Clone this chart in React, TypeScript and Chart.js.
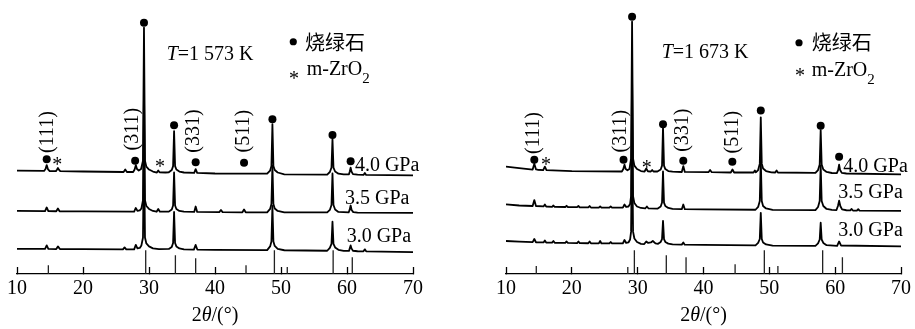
import React, { useEffect, useRef } from 'react';
import { Chart, registerables } from 'chart.js';

Chart.register(...registerables);

// ---------------- data ----------------
const X_MIN = 10;
const X_MAX = 70;
const X_STEP = 10;
const PRESSURES = ['4.0 GPa', '3.5 GPa', '3.0 GPa'];
const TEMPS = ['1 573 K', '1 673 K'];
const HKL = ['(111)', '(311)', '(331)', '(511)'];
const LEGEND_PYRO = '烧绿石';
const LEGEND_ZRO2 = 'm-ZrO';

type Pt = [number, number];

// T = 1573 K, intensities (a.u.) above each pattern's own offset
const L_40: Pt[] = [
  [10, 5], [14.1, 4.6], [14.32, 6.5], [14.5, 10.5], [14.68, 6.5], [14.95, 4.5], [15.9, 4.4], [16.05, 5.8],
  [16.2, 7.5], [16.35, 5.8], [16.55, 4.4], [20, 4], [26.15, 3.5], [26.4, 6], [26.65, 3.5], [27.6, 3.5],
  [27.82, 6], [28.0, 10.5], [28.18, 6.5], [28.45, 5], [28.8, 6.5], [29.09, 15], [29.24, 150], [29.39, 15],
  [29.6, 9], [30.0, 6], [30.6, 4], [31.2, 3], [31.4, 5], [31.6, 3.2], [32.5, 3], [33.0, 3.2], [33.45, 5.5],
  [33.65, 9.5], [33.8, 45], [33.95, 9.5], [34.15, 6], [34.6, 4], [35.3, 3], [36.85, 2.6], [37.07, 6.5],
  [37.3, 2.7], [40, 2], [47.9, 1.8], [48.35, 5], [48.55, 9.5], [48.7, 52], [48.85, 9.5], [49.05, 5.5],
  [49.5, 3], [50.5, 1.2], [57.0, 0.9], [57.4, 3.5], [57.65, 8], [57.8, 37], [57.95, 8], [58.2, 4], [58.7, 1.8],
  [59.5, 1], [60.3, 1.2], [60.42, 4], [60.55, 8], [60.68, 4], [60.9, 1.4], [61.6, 0.8], [62.5, 0.5],
  [62.7, 2.5], [62.9, 0.5], [70, 0],
];
const L_35: Pt[] = [
  [10, 2], [14.25, 1.8], [14.5, 5.5], [14.75, 1.8], [15.95, 1.7], [16.2, 4.5], [16.45, 1.7], [20, 1.5],
  [27.75, 1.2], [28.0, 5], [28.25, 2], [28.6, 2.5], [28.85, 4.5], [29.09, 13], [29.24, 125], [29.39, 13],
  [29.6, 7], [30.0, 4], [30.6, 2], [31.15, 1.2], [31.4, 4], [31.65, 1.2], [33.0, 1.3], [33.45, 3.5],
  [33.65, 7.5], [33.8, 41], [33.95, 7.5], [34.15, 4], [34.6, 2], [35.3, 1.2], [36.85, 1], [37.07, 6.5],
  [37.3, 1], [40.65, 0.8], [40.9, 3], [41.15, 0.8], [44.15, 0.6], [44.4, 3.5], [44.65, 0.6], [47.9, 0.6],
  [48.35, 4], [48.55, 9], [48.7, 48], [48.85, 9], [49.05, 4.5], [49.5, 2], [50.5, 0.6], [57.0, 0.5],
  [57.4, 3], [57.65, 8], [57.8, 40], [57.95, 8], [58.2, 3.5], [58.7, 1], [60.25, 0.5], [60.4, 3],
  [60.55, 7.5], [60.7, 3], [60.95, 0.8], [61.6, 0.3], [70, 0],
];
const L_30: Pt[] = [
  [10, 3.5], [14.25, 3.4], [14.5, 7], [14.75, 3.4], [15.95, 3.3], [16.2, 6], [16.5, 3.3], [20, 3.2],
  [26.05, 3], [26.3, 5], [26.55, 3], [27.75, 3], [28.0, 7.5], [28.25, 4], [28.6, 4.5], [28.85, 7],
  [29.09, 15], [29.24, 115], [29.39, 15], [29.6, 9], [30.0, 6], [30.6, 4], [31.5, 3.3], [33.0, 3.4],
  [33.45, 5.5], [33.65, 9.5], [33.8, 41], [33.95, 9.5], [34.15, 6], [34.6, 4], [35.3, 3], [36.8, 2.8],
  [37.07, 7.5], [37.32, 2.8], [40, 2.5], [47.9, 2.2], [48.35, 6], [48.55, 11], [48.7, 47], [48.85, 11],
  [49.05, 6.5], [49.5, 3.5], [50.5, 2.1], [57.0, 1.6], [57.4, 4.5], [57.65, 8.5], [57.8, 31], [57.95, 8.5],
  [58.2, 5], [58.7, 2.6], [59.5, 1.5], [60.3, 1.4], [60.42, 4], [60.55, 7], [60.68, 4], [60.9, 1.6],
  [61.6, 1.1], [62.5, 1], [62.7, 3], [62.9, 1], [70, 0.3],
];
const L_OFFSETS = [100, 62, 22];

// T = 1673 K
const R_40: Pt[] = [
  [10, 9], [12, 7.5], [14.05, 6], [14.3, 12], [14.55, 6.2], [14.8, 5.8], [15.65, 5.5], [15.9, 9], [16.15, 5.4],
  [20, 4.5], [27.6, 4], [27.82, 6.5], [28.0, 11], [28.18, 6.5], [28.45, 5.2], [28.75, 6.5], [29.0, 17],
  [29.15, 156], [29.3, 17], [29.5, 10], [29.9, 6.5], [30.5, 4.5], [31.05, 4], [31.3, 7], [31.55, 4.2],
  [32.0, 4], [32.2, 5.5], [32.4, 4], [33.0, 4], [33.5, 6], [33.7, 10], [33.85, 49], [34.0, 10], [34.2, 6.5],
  [34.65, 4.5], [35.3, 3.8], [36.7, 3.5], [36.93, 9.5], [37.16, 3.6], [40.75, 3.3], [41.0, 5.5], [41.25, 3.3],
  [44.15, 3], [44.4, 6], [44.65, 3], [47.6, 3], [47.8, 5], [47.95, 3.2], [48.3, 5.5], [48.55, 12], [48.7, 59],
  [48.85, 12], [49.05, 7], [49.5, 4.5], [50.3, 3.2], [50.9, 3], [51.1, 5], [51.3, 3], [57.0, 2.6], [57.4, 5.5],
  [57.65, 11], [57.8, 46], [57.95, 11], [58.2, 6], [58.7, 3.6], [59.5, 2.5], [60.25, 2.3], [60.45, 5.5],
  [60.6, 11], [60.75, 5.5], [61.0, 2.6], [61.7, 2], [70, 1],
];
const R_35: Pt[] = [
  [10, 6.7], [12, 5.5], [14.05, 5], [14.3, 11], [14.55, 5], [15.7, 4.6], [15.9, 6.5], [16.1, 4.5], [17.0, 4.2],
  [17.2, 5.5], [17.4, 4.1], [19.0, 4], [19.2, 5.2], [19.4, 4], [20.8, 3.8], [21.0, 5], [21.2, 3.7], [22.5, 3.6],
  [22.7, 5], [22.9, 3.5], [24.1, 3.4], [24.3, 4.6], [24.5, 3.3], [25.7, 3.3], [25.9, 4.5], [26.1, 3.3],
  [27.75, 3.3], [28.0, 6.5], [28.25, 4], [28.6, 4.5], [28.85, 7], [29.0, 15], [29.15, 135], [29.3, 15],
  [29.5, 8], [29.9, 4.5], [30.5, 3], [31.15, 2.5], [31.4, 4.5], [31.65, 2.5], [33.0, 2.3], [33.5, 4.5],
  [33.7, 8.5], [33.85, 40], [34.0, 8.5], [34.2, 5], [34.65, 3], [35.3, 2], [36.7, 1.8], [36.93, 6.5],
  [37.16, 1.8], [40, 1.5], [47.9, 1.2], [48.3, 4], [48.55, 10], [48.7, 52], [48.85, 10], [49.05, 5],
  [49.5, 2.5], [50.5, 1], [57.0, 0.8], [57.4, 4], [57.65, 10], [57.8, 46], [57.95, 10], [58.2, 5], [58.7, 2],
  [59.5, 1], [60.2, 0.9], [60.42, 5], [60.6, 10.5], [60.78, 5], [61.05, 1.5], [61.7, 0.7], [62.3, 0.5],
  [62.5, 2], [62.7, 0.4], [63.3, 0.4], [63.5, 1.8], [63.7, 0.3], [70, 0],
];
const R_30: Pt[] = [
  [10, 5.5], [12, 4.8], [14.05, 4.3], [14.3, 7.5], [14.55, 4.2], [15.7, 4], [15.9, 6], [16.1, 3.9], [17.0, 3.8],
  [17.2, 5.5], [17.4, 3.7], [19.0, 3.6], [19.2, 5], [19.4, 3.5], [20.8, 3.4], [21.0, 5], [21.2, 3.3], [22.5, 3.2],
  [22.7, 5], [22.9, 3.1], [24.1, 3.1], [24.3, 5.5], [24.5, 3], [25.7, 3], [25.9, 4.5], [26.1, 3], [27.75, 3],
  [28.0, 6.5], [28.25, 3.5], [28.6, 4], [28.85, 7], [29.0, 15], [29.15, 115], [29.3, 15], [29.5, 8],
  [29.9, 4.5], [30.5, 2.6], [31.0, 2.4], [31.3, 5], [31.6, 3.5], [32.0, 4], [32.3, 5.5], [32.7, 3], [33.1, 2.6],
  [33.5, 4.5], [33.7, 7.5], [33.85, 26], [34.0, 7.5], [34.2, 4.5], [34.65, 2.8], [35.3, 2], [36.7, 1.8],
  [36.93, 4], [37.15, 1.8], [40, 1.5], [47.9, 1], [48.3, 3.5], [48.55, 7.5], [48.7, 34], [48.85, 7.5],
  [49.05, 4], [49.5, 2], [50.5, 0.8], [57.0, 0.6], [57.4, 3], [57.65, 7], [57.8, 24], [57.95, 7], [58.2, 3.5],
  [58.7, 1.2], [60.3, 0.6], [60.6, 5], [60.9, 0.9], [70, 0],
];
const R_OFFSETS = [100, 64, 28];

// standard reference card sticks
const L_REF_POS = [14.75, 29.5, 34.0, 37.07, 44.7, 49.0, 50.95, 57.9, 60.8];
const L_REF_INT = [9, 24, 19, 16, 9, 24, 7, 24, 17];
const R_REF_POS = [14.6, 28.5, 29.5, 34.35, 37.35, 44.8, 49.24, 51.3, 58.1, 61.1];
const R_REF_INT = [8, 7, 24, 19, 17, 10, 24, 8, 24, 17];

// phase markers (pyrochlore dots, m-ZrO2 stars)
const L_DOT_X = [14.5, 27.9, 29.24, 33.8, 37.07, 44.4, 48.7, 57.8, 60.55];
const L_DOT_Y = [116.5, 115, 255, 151, 113.5, 113, 157, 141, 114.5];
const L_STAR_X = [16.1, 31.67];
const L_STAR_Y = [114, 112.5];
const R_DOT_X = [14.3, 27.85, 29.15, 33.85, 36.93, 44.38, 48.7, 57.8, 60.6];
const R_DOT_Y = [116, 116, 261, 152, 115, 114, 166, 150.5, 119];
const R_STAR_X = [16.08, 31.37];
const R_STAR_Y = [114, 110.7];

// ---------------- rendering ----------------
const SERIF = '"Liberation Serif", "Times New Roman", Times, serif';
const CJK = '"Noto Sans CJK SC", "Noto Sans CJK JP", sans-serif';

type Layout = {
  hkl: Pt[];
  pressureAt: Pt[];
  tempAt: Pt;
  legendDot: Pt;
  legendText1: Pt;
  legendStar: Pt;
  legendText2: Pt;
};

const LEFT_LAYOUT: Layout = {
  hkl: [[14.6, 144], [27.5, 147], [36.8, 145], [44.4, 145]],
  pressureAt: [[61.2, 105], [59.7, 70.7], [59.95, 32.3]],
  tempAt: [32.68, 217.3],
  legendDot: [51.86, 235.7],
  legendText1: [53.64, 235.3],
  legendStar: [51.97, 201.3],
  legendText2: [53.89, 202],
};
const RIGHT_LAYOUT: Layout = {
  hkl: [[14.25, 143], [27.47, 145], [36.81, 146], [44.4, 144]],
  pressureAt: [[61.24, 104], [60.48, 77.3], [60.48, 39]],
  tempAt: [33.65, 219],
  legendDot: [54.51, 234.7],
  legendText1: [56.44, 235.3],
  legendStar: [54.66, 204],
  legendText2: [56.44, 200.7],
};

function drawStar(ctx: CanvasRenderingContext2D, cx: number, cy: number) {
  ctx.save();
  ctx.font = `20px ${SERIF}`;
  ctx.textAlign = 'center';
  ctx.textBaseline = 'alphabetic';
  ctx.fillText('*', cx, cy + 9.4);
  ctx.restore();
}

function annotationPlugin(layout: Layout, temp: string, stars: Pt[]) {
  return {
    id: 'xrdAnnotations',
    afterDatasetsDraw(chart: any) {
      const { ctx, chartArea } = chart;
      const xs = chart.scales.x;
      const ys = chart.scales.y;
      const X = (v: number) => xs.getPixelForValue(v);
      const Y = (v: number) => ys.getPixelForValue(v);
      ctx.save();
      ctx.fillStyle = '#000';

      // Miller indices (rotated)
      ctx.font = `20px ${SERIF}`;
      ctx.textAlign = 'center';
      ctx.textBaseline = 'middle';
      layout.hkl.forEach(([hx, hy], i) => {
        ctx.save();
        ctx.translate(X(hx), Y(hy));
        ctx.rotate(-Math.PI / 2);
        ctx.fillText(HKL[i], 0, 0);
        ctx.restore();
      });

      // m-ZrO2 stars
      stars.forEach(([sx, sy]) => drawStar(ctx, X(sx), Y(sy)));

      // pressure labels
      ctx.font = `20px ${SERIF}`;
      ctx.textAlign = 'left';
      ctx.textBaseline = 'alphabetic';
      layout.pressureAt.forEach(([px, py], i) => ctx.fillText(PRESSURES[i], X(px), Y(py)));

      // temperature
      let tx = X(layout.tempAt[0]);
      const ty = Y(layout.tempAt[1]);
      ctx.font = `italic 20px ${SERIF}`;
      ctx.fillText('T', tx, ty);
      tx += ctx.measureText('T').width;
      ctx.font = `20px ${SERIF}`;
      ctx.fillText('=' + temp, tx, ty);

      // legend
      ctx.beginPath();
      ctx.arc(X(layout.legendDot[0]), Y(layout.legendDot[1]), 3.6, 0, Math.PI * 2);
      ctx.fill();
      ctx.font = `20px ${CJK}`;
      ctx.textBaseline = 'middle';
      ctx.fillText(LEGEND_PYRO, X(layout.legendText1[0]), Y(layout.legendText1[1]));
      drawStar(ctx, X(layout.legendStar[0]), Y(layout.legendStar[1]));
      ctx.font = `20px ${SERIF}`;
      ctx.textBaseline = 'alphabetic';
      const lx = X(layout.legendText2[0]);
      const ly = Y(layout.legendText2[1]);
      ctx.fillText(LEGEND_ZRO2, lx, ly);
      const w2 = ctx.measureText(LEGEND_ZRO2).width;
      ctx.font = `15px ${SERIF}`;
      ctx.fillText('2', lx + w2, ly + 8);

      // x-axis title: 2θ/(°)
      ctx.font = `20px ${SERIF}`;
      const p1 = '2';
      const p3 = '/(°)';
      const w1 = ctx.measureText(p1).width;
      const w3 = ctx.measureText(p3).width;
      ctx.font = `italic 20px ${SERIF}`;
      const wth = ctx.measureText('θ').width;
      const total = w1 + wth + w3;
      let ax = (chartArea.left + chartArea.right) / 2 - total / 2;
      const ay = 321;
      ctx.font = `20px ${SERIF}`;
      ctx.fillText(p1, ax, ay);
      ax += w1;
      ctx.font = `italic 20px ${SERIF}`;
      ctx.fillText('θ', ax, ay);
      ax += wth;
      ctx.font = `20px ${SERIF}`;
      ctx.fillText(p3, ax, ay);

      ctx.restore();
    },
  };
}

function buildConfig(
  traces: Pt[][],
  offsets: number[],
  refPos: number[],
  refInt: number[],
  dotX: number[],
  dotY: number[],
  starX: number[],
  starY: number[],
  layout: Layout,
  temp: string,
  padLeft: number,
  padRight: number,
) {
  const traceSets = traces.map((tr, i) => ({
    type: 'line',
    data: tr.map(([x, y]) => ({ x, y: y + offsets[i] })),
    borderColor: '#000',
    borderWidth: 1.8,
    borderJoinStyle: 'round',
    pointRadius: 0,
    tension: 0,
    fill: false,
  }));
  const refData: any[] = [];
  refPos.forEach((p, i) => {
    refData.push({ x: p, y: 0 }, { x: p, y: refInt[i] }, { x: p, y: null });
  });
  const refSet = {
    type: 'line',
    data: refData,
    borderColor: '#222',
    borderWidth: 1.3,
    pointRadius: 0,
    spanGaps: false,
    fill: false,
  };
  const dotSet = {
    type: 'scatter',
    data: dotX.map((x, i) => ({ x, y: dotY[i] })),
    pointRadius: 4,
    pointBackgroundColor: '#000',
    pointBorderWidth: 0,
    showLine: false,
  };
  const stars: Pt[] = starX.map((x, i) => [x, starY[i]]);
  return {
    type: 'line',
    data: { datasets: [...traceSets, refSet, dotSet] },
    options: {
      responsive: false,
      animation: false,
      devicePixelRatio: 1,
      events: [],
      layout: { padding: { left: padLeft, right: padRight, top: 0, bottom: 28 } },
      plugins: { legend: { display: false }, tooltip: { enabled: false }, title: { display: false } },
      scales: {
        x: {
          type: 'linear',
          min: X_MIN,
          max: X_MAX,
          offset: false,
          afterFit: (scale: any) => {
            scale.height = 27;
          },
          border: { display: true, color: '#000', width: 1.3 },
          grid: {
            display: true,
            drawOnChartArea: false,
            drawTicks: true,
            tickLength: -7,
            tickColor: '#000',
            tickWidth: 1.3,
          },
          ticks: {
            stepSize: X_STEP,
            padding: 0,
            color: '#000',
            maxRotation: 0,
            font: { family: SERIF, size: 20, lineHeight: 2.2 },
          },
        },
        y: { display: false, min: 0, max: 274 },
      },
    },
    plugins: [annotationPlugin(layout, temp, stars)],
  };
}

function Panel(props: { config: any; width: number; left: number }) {
  const ref = useRef<HTMLCanvasElement | null>(null);
  useEffect(() => {
    if (!ref.current) return;
    const chart = new Chart(ref.current, props.config);
    return () => chart.destroy();
  }, []);
  return (
    <canvas
      ref={ref}
      width={props.width}
      height={329}
      style={{ position: 'absolute', left: props.left, top: 0, width: props.width, height: 329, display: 'block' }}
    />
  );
}

export default function App() {
  const leftCfg = buildConfig(
    [L_40, L_35, L_30], L_OFFSETS, L_REF_POS, L_REF_INT,
    L_DOT_X, L_DOT_Y, L_STAR_X, L_STAR_Y, LEFT_LAYOUT, TEMPS[0], 17, 45,
  );
  const rightCfg = buildConfig(
    [R_40, R_35, R_30], R_OFFSETS, R_REF_POS, R_REF_INT,
    R_DOT_X, R_DOT_Y, R_STAR_X, R_STAR_Y, RIGHT_LAYOUT, TEMPS[1], 48, 14,
  );
  return (
    <div style={{ position: 'fixed', left: 0, top: 0, width: 915, height: 329, background: '#fff', overflow: 'hidden' }}>
      <Panel config={leftCfg} width={458} left={0} />
      <Panel config={rightCfg} width={457} left={458} />
    </div>
  );
}
